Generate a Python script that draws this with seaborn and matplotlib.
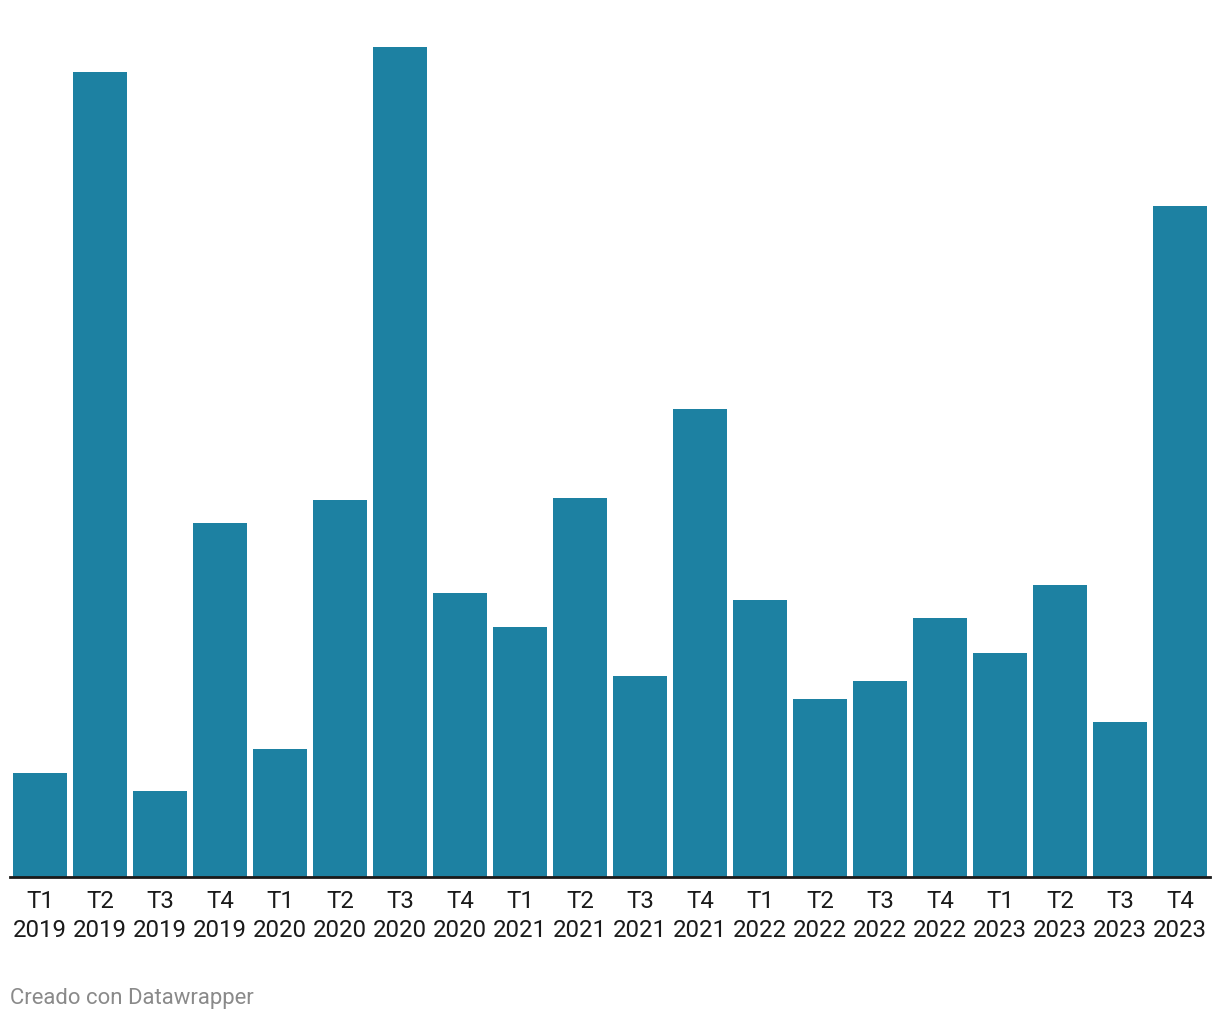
import matplotlib
matplotlib.use("Agg")
import matplotlib.pyplot as plt
import seaborn as sns
import pandas as pd

quarters = ["T1", "T2", "T3", "T4"] * 5
years = ["2019"] * 4 + ["2020"] * 4 + ["2021"] * 4 + ["2022"] * 4 + ["2023"] * 4
values = [104, 805, 86, 354, 128, 377, 830, 284, 250, 379, 201, 468,
          277, 178, 196, 259, 224, 292, 155, 671]

labels = [f"{q}\n{y}" for q, y in zip(quarters, years)]
df = pd.DataFrame({"label": labels, "value": values})

sns.set_theme(style="white")
plt.rcParams["font.family"] = ["Roboto", "DejaVu Sans"]

fig = plt.figure(figsize=(12.2, 10.2), dpi=100)
ax = fig.add_axes([10 / 1220, 1 - 878 / 1020, 1200 / 1220, 836 / 1020])

sns.barplot(data=df, x="label", y="value", color="#1d81a2", saturation=1,
            width=0.9, linewidth=0, ax=ax)

ax.set_xlim(-0.5, len(values) - 0.5)
ax.set_ylim(0, 836)
ax.set_xlabel("")
ax.set_ylabel("")
ax.set_yticks([])
for s in ["top", "right", "left"]:
    ax.spines[s].set_visible(False)
ax.spines["bottom"].set_color("#1a1a1a")
ax.spines["bottom"].set_linewidth(2)
ax.tick_params(axis="x", length=0, pad=9, labelsize=17.3, labelcolor="#1a1a1a")
for t in ax.get_xticklabels():
    t.set_linespacing(1.3)

fig.text(10 / 1220, 1 - 1004 / 1020, "Creado con Datawrapper", fontsize=15.9,
         color="#8a8a8a", ha="left", va="baseline")

fig.savefig("out.png", dpi=100, facecolor="white")
